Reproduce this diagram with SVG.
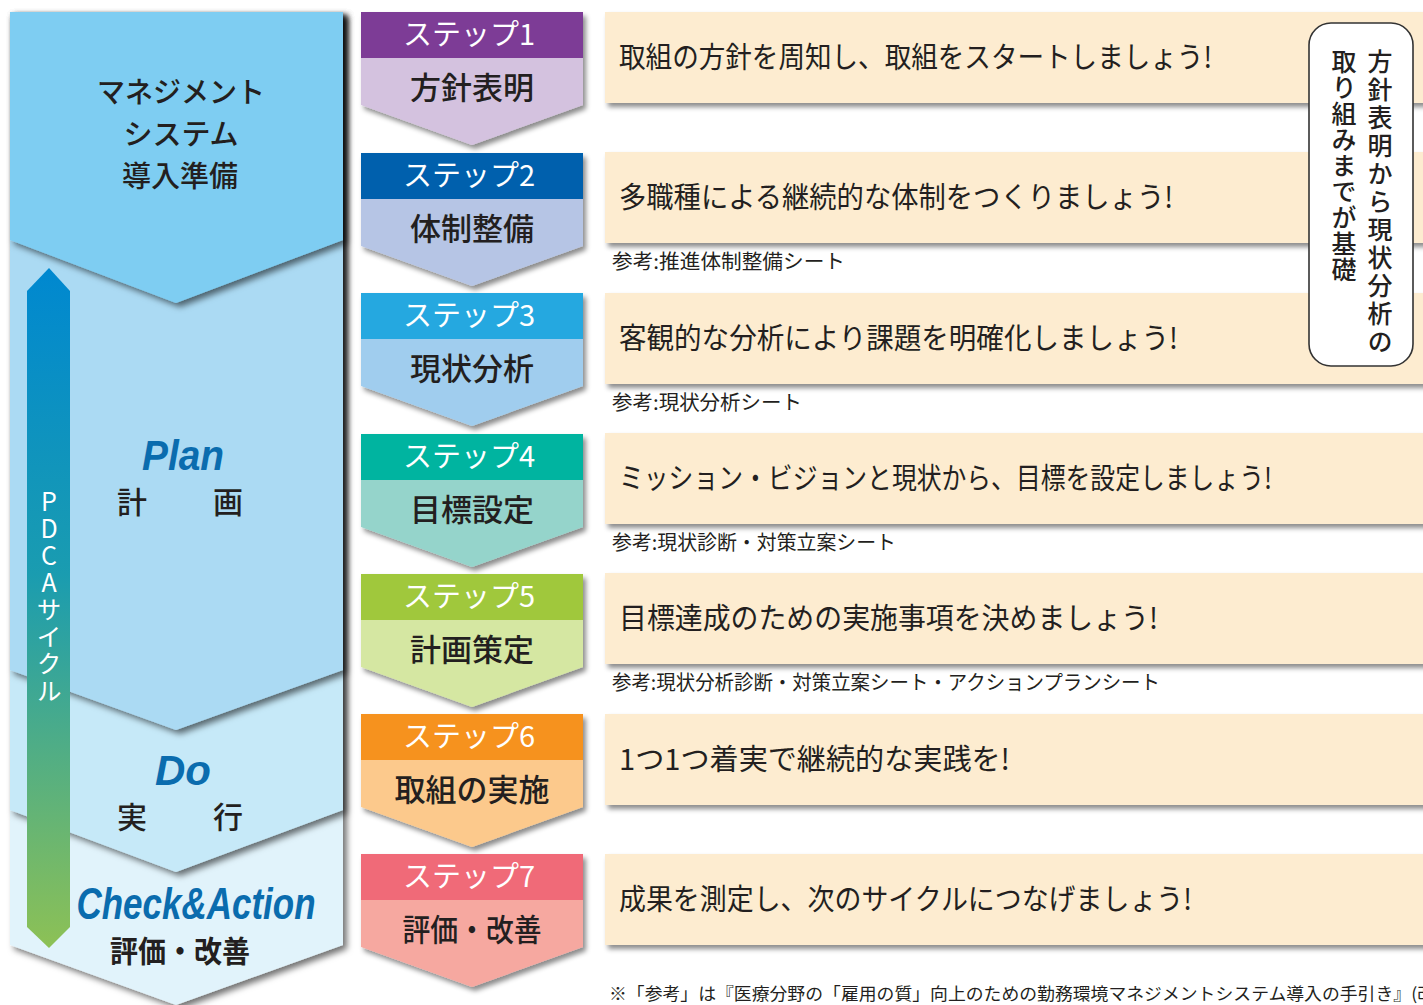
<svg xmlns="http://www.w3.org/2000/svg" width="1423" height="1005" viewBox="0 0 1423 1005">
<defs>
<filter id="sh" x="-10%" y="-10%" width="130%" height="130%">
<feDropShadow dx="4" dy="4" stdDeviation="3" flood-color="#000" flood-opacity="0.55"/>
</filter>
<filter id="sh2" x="-5%" y="-10%" width="115%" height="140%">
<feDropShadow dx="3" dy="4" stdDeviation="2.5" flood-color="#000" flood-opacity="0.45"/>
</filter>
<linearGradient id="pdca" x1="0" y1="0" x2="0" y2="1">
<stop offset="0" stop-color="#0088d0"/>
<stop offset="0.45" stop-color="#1a9cb0"/>
<stop offset="1" stop-color="#8dc155"/>
</linearGradient>
<style>
.jp{font-family:"Noto Sans CJK JP","Noto Sans CJK SC",sans-serif;fill:#231f20}
.lh{font-size:29px;font-weight:500;text-anchor:middle}
.en{font-family:"Liberation Sans",Arial,sans-serif;font-weight:bold;font-style:italic;fill:#0a6cae}
.sh{font-size:29px;fill:#fff;text-anchor:middle}
.sb{font-size:31px;font-weight:500;text-anchor:middle}
.mt{font-size:29px}
.rf{font-size:20px}
.box{fill:#fdecd0}
.vt{writing-mode:vertical-rl;text-orientation:upright;font-size:25px}
</style>
</defs>
<rect width="1423" height="1005" fill="#fff"/>

<g id="phase-check">
<path d="M10 12H343V945L176 1005L10 945Z" fill="#e1f3fb" filter="url(#sh)"/>
</g>
<g id="phase-do">
<path d="M10 12H343V810L176 872L10 810Z" fill="#c6e9f8" filter="url(#sh)"/>
</g>
<g id="phase-plan">
<path d="M10 12H343V670L176 730L10 670Z" fill="#abdaf3" filter="url(#sh)"/>
</g>
<g id="phase-prep">
<path d="M10 12H343V240L176 303L10 240Z" fill="#7ecdf2" filter="url(#sh)"/>
<text class="jp lh" x="181" y="103" textLength="168" lengthAdjust="spacingAndGlyphs">マネジメント</text>
<text class="jp lh" x="181" y="145">システム</text>
<text class="jp lh" x="180" y="187">導入準備</text>
</g>
<g id="label-plan">
<text class="en" x="183" y="470" font-size="42" text-anchor="middle" textLength="82" lengthAdjust="spacingAndGlyphs">Plan</text>
<text class="jp" x="117" y="513" font-size="30" font-weight="500">計</text>
<text class="jp" x="213" y="513" font-size="30" font-weight="500">画</text>
</g>
<g id="label-do">
<text class="en" x="183" y="785" font-size="42" text-anchor="middle" textLength="56" lengthAdjust="spacingAndGlyphs">Do</text>
<text class="jp" x="117" y="828" font-size="30" font-weight="500">実</text>
<text class="jp" x="213" y="828" font-size="30" font-weight="500">行</text>
</g>
<g id="label-check">
<text class="en" x="196" y="919" font-size="44" text-anchor="middle" textLength="239" lengthAdjust="spacingAndGlyphs">Check&amp;Action</text>
<text class="jp" x="180" y="962" font-size="30" font-weight="bold" text-anchor="middle" textLength="140" lengthAdjust="spacingAndGlyphs">評価・改善</text>
</g>

<g id="connectors">
<path d="M49 268L70 291V927L49 948L27 927V291Z" fill="url(#pdca)"/>
<text class="jp vt" x="49" y="489" style="fill:#fff;letter-spacing:2px">PDCAサイクル</text>
</g>

<g id="step1">
<path d="M361 12H583V105L472 145L361 105Z" fill="#d4c2df" filter="url(#sh2)"/>
<rect x="361" y="12" width="222" height="46" fill="#7d3c96"/>
<text class="jp sh" x="469" y="45">ステップ1</text>
<text class="jp sb" x="472" y="99">方針表明</text>
</g>
<g id="step2">
<path d="M361 153H583V246L472 286L361 246Z" fill="#b6c5e5" filter="url(#sh2)"/>
<rect x="361" y="153" width="222" height="46" fill="#0060ad"/>
<text class="jp sh" x="469" y="186">ステップ2</text>
<text class="jp sb" x="472" y="240">体制整備</text>
</g>
<g id="step3">
<path d="M361 293H583V386L472 426L361 386Z" fill="#a0cdee" filter="url(#sh2)"/>
<rect x="361" y="293" width="222" height="46" fill="#25a8e0"/>
<text class="jp sh" x="469" y="326">ステップ3</text>
<text class="jp sb" x="472" y="380">現状分析</text>
</g>
<g id="step4">
<path d="M361 434H583V527L472 567L361 527Z" fill="#95d4cb" filter="url(#sh2)"/>
<rect x="361" y="434" width="222" height="46" fill="#00b4a0"/>
<text class="jp sh" x="469" y="467">ステップ4</text>
<text class="jp sb" x="472" y="521">目標設定</text>
</g>
<g id="step5">
<path d="M361 574H583V667L472 707L361 667Z" fill="#d5e7a2" filter="url(#sh2)"/>
<rect x="361" y="574" width="222" height="46" fill="#a0c83c"/>
<text class="jp sh" x="469" y="607">ステップ5</text>
<text class="jp sb" x="472" y="661">計画策定</text>
</g>
<g id="step6">
<path d="M361 714H583V807L472 847L361 807Z" fill="#fcc98c" filter="url(#sh2)"/>
<rect x="361" y="714" width="222" height="46" fill="#f6921e"/>
<text class="jp sh" x="469" y="747">ステップ6</text>
<text class="jp sb" x="472" y="801">取組の実施</text>
</g>
<g id="step7">
<path d="M361 854H583V947L472 987L361 947Z" fill="#f6a8a0" filter="url(#sh2)"/>
<rect x="361" y="854" width="222" height="46" fill="#f06a78"/>
<text class="jp sh" x="469" y="887">ステップ7</text>
<text class="jp sb" x="472" y="941" textLength="139" lengthAdjust="spacingAndGlyphs">評価・改善</text>
</g>

<g id="desc1">
<rect class="box" x="605" y="12" width="830" height="91" filter="url(#sh2)"/>
<text class="jp mt" x="619" y="68" textLength="593" lengthAdjust="spacingAndGlyphs">取組の方針を周知し、取組をスタートしましょう!</text>
</g>
<g id="desc2">
<rect class="box" x="605" y="152" width="830" height="91" filter="url(#sh2)"/>
<text class="jp mt" x="619" y="208" textLength="554" lengthAdjust="spacingAndGlyphs">多職種による継続的な体制をつくりましょう!</text>
<text class="jp rf" x="612" y="269" textLength="233" lengthAdjust="spacingAndGlyphs">参考:推進体制整備シート</text>
</g>
<g id="desc3">
<rect class="box" x="605" y="293" width="830" height="91" filter="url(#sh2)"/>
<text class="jp mt" x="619" y="349" textLength="559" lengthAdjust="spacingAndGlyphs">客観的な分析により課題を明確化しましょう!</text>
<text class="jp rf" x="612" y="410" textLength="190" lengthAdjust="spacingAndGlyphs">参考:現状分析シート</text>
</g>
<g id="desc4">
<rect class="box" x="605" y="433" width="830" height="91" filter="url(#sh2)"/>
<text class="jp mt" x="619" y="489" textLength="653" lengthAdjust="spacingAndGlyphs">ミッション・ビジョンと現状から、目標を設定しましょう!</text>
<text class="jp rf" x="612" y="550" textLength="284" lengthAdjust="spacingAndGlyphs">参考:現状診断・対策立案シート</text>
</g>
<g id="desc5">
<rect class="box" x="605" y="573" width="830" height="91" filter="url(#sh2)"/>
<text class="jp mt" x="619" y="629" textLength="539" lengthAdjust="spacingAndGlyphs">目標達成のための実施事項を決めましょう!</text>
<text class="jp rf" x="612" y="690" textLength="548" lengthAdjust="spacingAndGlyphs">参考:現状分析診断・対策立案シート・アクションプランシート</text>
</g>
<g id="desc6">
<rect class="box" x="605" y="714" width="830" height="91" filter="url(#sh2)"/>
<text class="jp mt" x="619" y="770" textLength="391" lengthAdjust="spacingAndGlyphs">1つ1つ着実で継続的な実践を!</text>
</g>
<g id="desc7">
<rect class="box" x="605" y="854" width="830" height="91" filter="url(#sh2)"/>
<text class="jp mt" x="619" y="910" textLength="573" lengthAdjust="spacingAndGlyphs">成果を測定し、次のサイクルにつなげましょう!</text>
</g>

<g id="foundation-note">
<rect x="1309" y="23" width="104" height="343" rx="22" fill="#fff" stroke="#333" stroke-width="1.6"/>
<text class="jp vt" x="1380" y="49" font-weight="500" style="letter-spacing:3px">方針表明から現状分析の</text>
<text class="jp vt" x="1344" y="49" font-weight="500" style="letter-spacing:1px">取り組みまでが基礎</text>
</g>

<g id="footnote">
<text class="jp" x="609" y="1000" font-size="17" textLength="826" lengthAdjust="spacingAndGlyphs">※「参考」は『医療分野の「雇用の質」向上のための勤務環境マネジメントシステム導入の手引き』(改</text>
</g>
</svg>
